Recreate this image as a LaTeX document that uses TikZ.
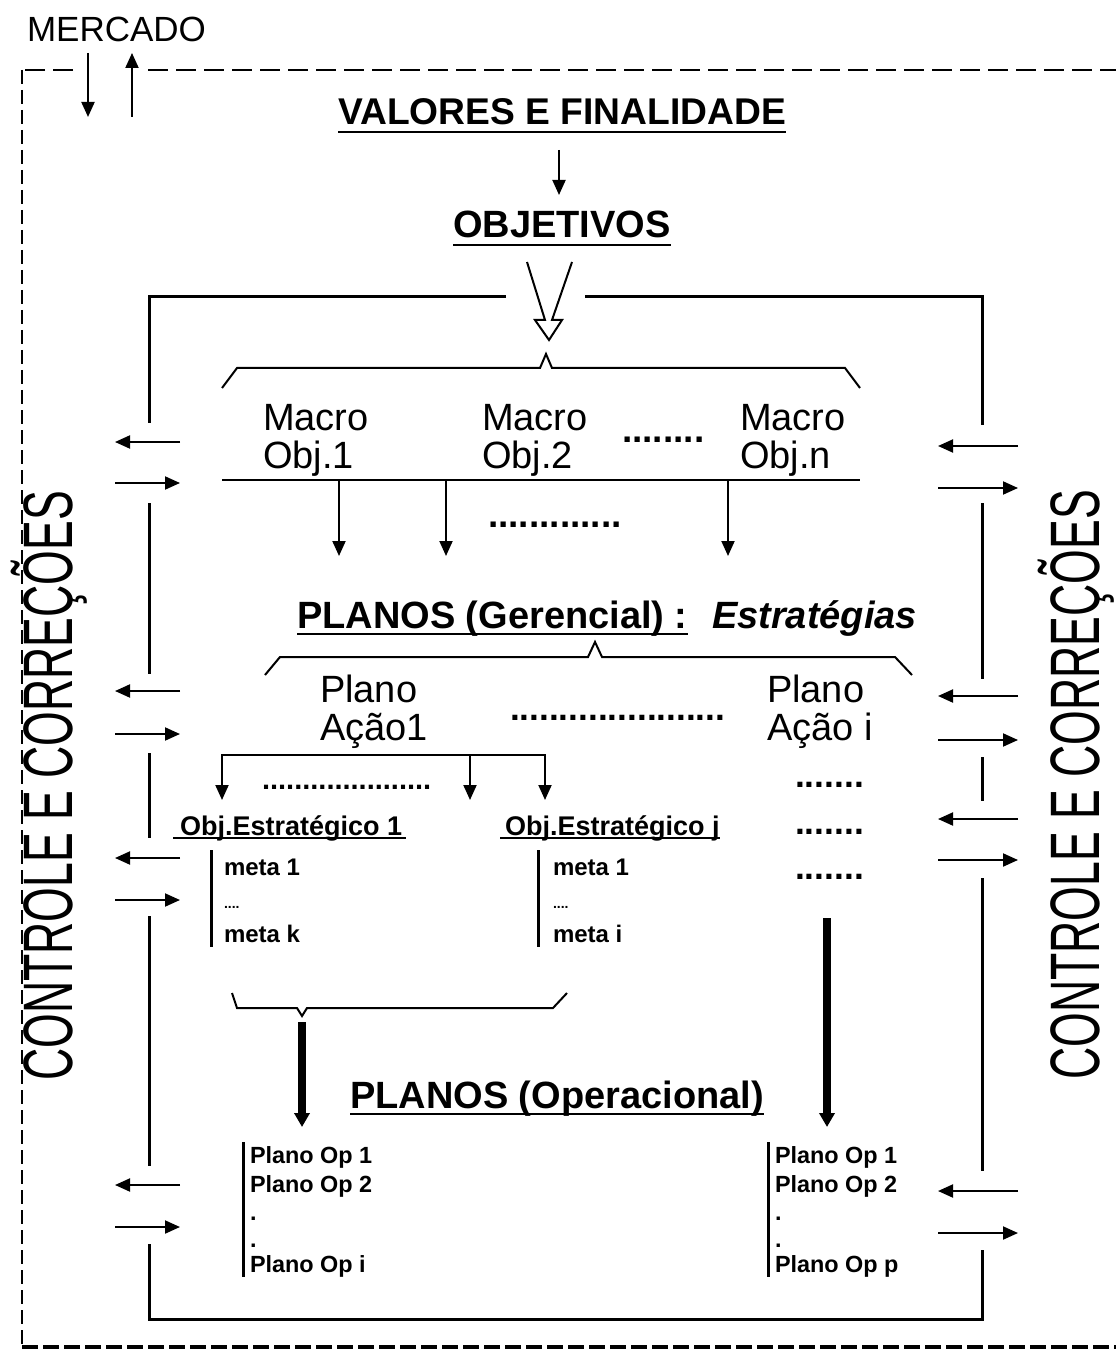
\documentclass[tikz,border=0pt]{standalone}
\usepackage{fontspec}
\usepackage{graphicx}
\setmainfont{Liberation Sans}
\usetikzlibrary{arrows.meta}
\newcommand\fsz[2]{\fontsize{#1}{#2}\selectfont}
\tikzset{
  every node/.style={inner sep=0pt, outer sep=0pt},
  ln/.style={line width=1.2pt},
  ctl/.style={line width=1.5pt},
  ul/.style={line width=1.4pt},
  arr/.style={line width=1pt, -{Triangle[length=7.5pt,width=6.5pt]}},
  fatarr/.style={line width=4pt, -{Triangle[length=7pt,width=7.5pt]}},
  bord/.style={line width=1pt, dash pattern=on 10pt off 4pt},
  bordL/.style={line width=1.3pt, dash pattern=on 7pt off 3pt},
  bordB/.style={line width=2pt, dash pattern=on 8pt off 2.5pt},
  ttl/.style={font=\bfseries\fsz{19}{21}},
  big/.style={font=\fsz{19}{17.5}},
  small/.style={font=\bfseries\fsz{11.7}{14}},
  ctext/.style={font=\fsz{35}{40}, rotate=90, anchor=base},
}
\begin{document}
\begin{tikzpicture}[x=0.5pt,y=-0.5pt]
\useasboundingbox (0,0) rectangle (1116,1352);

% dashed market border
\draw[bord] (73,70) -- (22,70);
\draw[bordL] (22,70) -- (22,1347);
\draw[bord] (148,70) -- (1116,70);
\draw[bordB] (22,1347) -- (1116,1347);

% MERCADO
\node[font=\fsz{17.5}{20}, anchor=base west] (mercado) at (27,42) {MERCADO};
\coordinate (md1) at (88,53);  \coordinate (md2) at (88,117);
\coordinate (mu1) at (132,117); \coordinate (mu2) at (132,53);
\draw[arr] (md1) -- (md2);
\draw[arr] (mu1) -- (mu2);

% titles
\node[font=\bfseries\fsz{18.6}{21}, anchor=base] (valores) at (562,125) {VALORES E FINALIDADE};
\draw[ul] ([shift={(0,7)}]valores.base west) -- ([shift={(0,7)}]valores.base east);
\node[ttl, anchor=base] (objetivos) at (562,238) {OBJETIVOS};
\draw[ul] ([shift={(0,7)}]objetivos.base west) -- ([shift={(0,7)}]objetivos.base east);
\coordinate (va1) at (559,150); \coordinate (va2) at (559,195);
\draw[arr] (va1) -- (va2);

% open arrow
\draw[line width=1pt] (527,262) -- (545,320) -- (535,320) -- (549,340) -- (562,320) -- (552,320) -- (572,262);

% control loop (left / right)
\draw[ctl] (506,297) -- (149,297) -- (149,423);
\draw[ctl] (149,503) -- (149,674);
\draw[ctl] (149,753) -- (149,838);
\draw[ctl] (149,916) -- (149,1166);
\draw[ctl] (149,1244) -- (149,1319) -- (982,1319) -- (982,1250);
\draw[ctl] (585,297) -- (982,297) -- (982,425);
\draw[ctl] (982,503) -- (982,679);
\draw[ctl] (982,757) -- (982,801);
\draw[ctl] (982,878) -- (982,1171);

\foreach \a/\b [count=\i] in {442/483,691/734,858/900,1185/1227}{
  \coordinate (Lin\i) at (180,\a); \coordinate (Lout\i) at (115,\a);
  \draw[arr] (Lin\i) -- (Lout\i);
  \coordinate (Lsrc\i) at (115,\b); \coordinate (Ldst\i) at (180,\b);
  \draw[arr] (Lsrc\i) -- (Ldst\i);
}
\foreach \a/\b [count=\i] in {446/488,696/740,819/860,1191/1233}{
  \coordinate (Rin\i) at (1018,\a); \coordinate (Rout\i) at (938,\a);
  \draw[arr] (Rin\i) -- (Rout\i);
  \coordinate (Rsrc\i) at (938,\b); \coordinate (Rdst\i) at (1018,\b);
  \draw[arr] (Rsrc\i) -- (Rdst\i);
}

% CONTROLE E CORRECOES
\node[ctext] (ctlL) at (72,786) {\scalebox{0.637}[1]{CONTROLE E CORREÇÕES}};
\node[ctext] (ctlR) at (1099,785) {\scalebox{0.637}[1]{CONTROLE E CORREÇÕES}};

% macro objectives
\draw[line width=1pt] (222,388) -- (237,368) -- (540,368) -- (546,354) -- (552,368) -- (845,368) -- (860,388);
\node[big, anchor=base west] (mo1) at (263,430) {\begin{tabular}[t]{@{}l@{}}Macro\\Obj.1\end{tabular}};
\node[big, anchor=base west] (mo2) at (482,430) {\begin{tabular}[t]{@{}l@{}}Macro\\Obj.2\end{tabular}};
\node[font=\bfseries\fsz{18.5}{20}, anchor=base west] (mdots) at (622,442) {........};
\node[big, anchor=base west] (mon) at (740,430) {\begin{tabular}[t]{@{}l@{}}Macro\\Obj.n\end{tabular}};
\draw[ln] (222,480) -- (860,480);
\foreach \x [count=\i] in {339,446,728}{
  \coordinate (mt\i) at (\x,480); \coordinate (mb\i) at (\x,556);
  \draw[arr] (mt\i) -- (mb\i);
}
\node[font=\bfseries\fsz{18.5}{20}, anchor=base west] (mdots2) at (488,527) {.............};

% PLANOS (Gerencial)
\node[ttl, anchor=base west] (pger) at (297,628) {PLANOS (Gerencial) :};
\draw[ul] ([shift={(0,6)}]pger.base west) -- ([shift={(0,6)}]pger.base east);
\node[font=\bfseries\itshape\fsz{19}{21}, anchor=base west] (estr) at (712,628) {Estratégias};
\draw[line width=1pt] (265,675) -- (280,657) -- (588,657) -- (595,642) -- (602,657) -- (895,657) -- (912,675);

\node[font=\fsz{19}{19}, anchor=base west] (pa1) at (320,702) {\begin{tabular}[t]{@{}l@{}}Plano\\Ação1\end{tabular}};
\node[font=\fsz{19}{19}, anchor=base west] (pai) at (767,702) {\begin{tabular}[t]{@{}l@{}}Plano\\Ação i\end{tabular}};
\node[font=\bfseries\fsz{17.6}{20}, anchor=base west] (padots) at (510,720) {......................};

% bracket from Plano Acao 1
\coordinate (bl) at (222,800); \coordinate (br) at (545,800); \coordinate (bm) at (470,800);
\coordinate (bmt) at (470,755);
\draw[line width=1pt, {Triangle[length=7.5pt,width=6.5pt]}-{Triangle[length=7.5pt,width=6.5pt]}] (bl) -- (222,755) -- (545,755) -- (br);
\draw[arr] (bmt) -- (bm);
\node[font=\bfseries\fsz{14.5}{16}, anchor=base west] (bdots) at (262,789) {.....................};

% strategic objectives
\node[font=\bfseries\fsz{13.5}{16}, anchor=base west] (oe1) at (180,835) {Obj.Estratégico 1};
\draw[ul] ([shift={(-7,3)}]oe1.base west) -- ([shift={(4,3)}]oe1.base east);
\node[font=\bfseries\fsz{13.5}{16}, anchor=base west] (oej) at (505,835) {Obj.Estratégico j};
\draw[ul] ([shift={(-5,3)}]oej.base west) -- ([shift={(0,3)}]oej.base east);

\foreach \y [count=\i] in {787,834,879}{
  \node[font=\bfseries\fsz{17.7}{20}, anchor=base west] (rd\i) at (795,\y) {.......};
}

% metas
\draw[ctl] (211,850) -- (211,947);
\node[font=\bfseries\fsz{12}{14}, anchor=base west] (m11) at (224,875) {meta 1};
\node[font=\bfseries\fsz{7}{8}, anchor=base west] (m1d) at (224,908) {....};
\node[font=\bfseries\fsz{12}{14}, anchor=base west] (m1k) at (224,942) {meta k};
\draw[ctl] (538,850) -- (538,947);
\node[font=\bfseries\fsz{12}{14}, anchor=base west] (m21) at (553,875) {meta 1};
\node[font=\bfseries\fsz{7}{8}, anchor=base west] (m2d) at (553,908) {....};
\node[font=\bfseries\fsz{12}{14}, anchor=base west] (m2i) at (553,942) {meta i};

% lower brace
\draw[line width=1pt] (232,993) -- (237,1008) -- (297,1008) -- (302,1016) -- (307,1008) -- (553,1008) -- (567,993);

% thick arrows
\coordinate (ta1) at (302,1022); \coordinate (tb1) at (302,1127);
\coordinate (ta2) at (827,918);  \coordinate (tb2) at (827,1127);
\draw[fatarr] (ta1) -- (tb1);
\draw[fatarr] (ta2) -- (tb2);

% PLANOS (Operacional)
\node[ttl, anchor=base west] (pop) at (350,1108) {PLANOS (Operacional)};
\draw[ul] ([shift={(0,6)}]pop.base west) -- ([shift={(0,6)}]pop.base east);

% operational plan lists
\draw[ctl] (243,1142) -- (243,1277);
\node[small, anchor=base west] (o11) at (250,1163) {Plano Op 1};
\node[small, anchor=base west] (o12) at (250,1192) {Plano Op 2};
\node[small, anchor=base west] (o1a) at (250,1220) {.};
\node[small, anchor=base west] (o1b) at (250,1247) {.};
\node[small, anchor=base west] (o1i) at (250,1272) {Plano Op i};
\draw[ctl] (768,1142) -- (768,1277);
\node[small, anchor=base west] (o21) at (775,1163) {Plano Op 1};
\node[small, anchor=base west] (o22) at (775,1192) {Plano Op 2};
\node[small, anchor=base west] (o2a) at (775,1220) {.};
\node[small, anchor=base west] (o2b) at (775,1247) {.};
\node[small, anchor=base west] (o2p) at (775,1272) {Plano Op p};
\end{tikzpicture}
\end{document}
